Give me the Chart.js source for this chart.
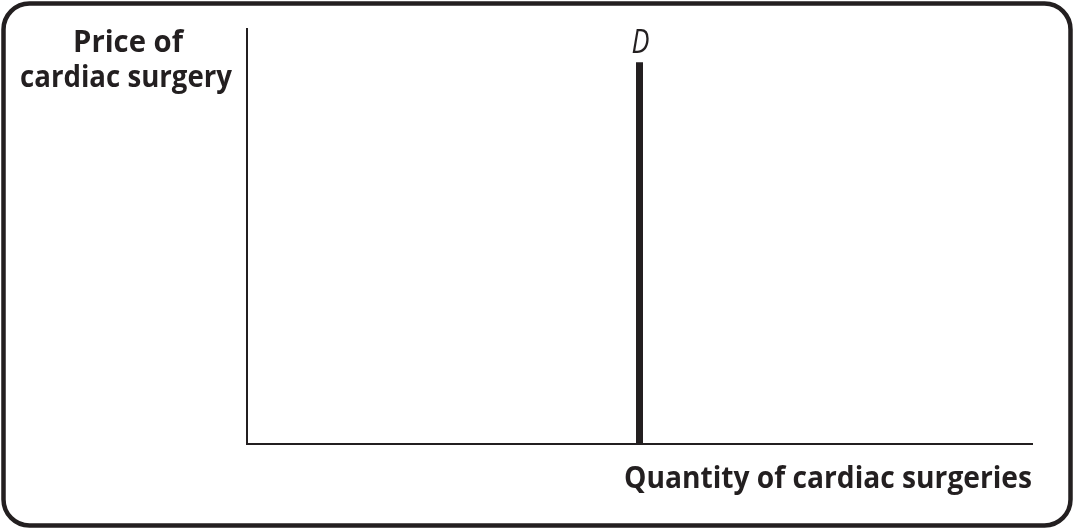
<!DOCTYPE html>
<html>
<head>
<meta charset="utf-8">
<script src="https://cdn.jsdelivr.net/npm/chart.js@4/dist/chart.umd.min.js"></script>
<style>
  html, body { margin: 0; padding: 0; background: #fff; }
  #wrap { width: 1074px; height: 529px; position: relative; }
</style>
</head>
<body>
<div id="wrap"><canvas id="c" width="1074" height="529"></canvas></div>
<script>
// ---- data ----
const demandQuantity = [50, 50];
const demandPrice = [0, 92];
const demandLabel = "D";
const yTitleLines = ["Price of", "cardiac surgery"];
const xTitle = "Quantity of cardiac surgeries";
const xRange = [0, 100];
const yRange = [0, 100];

const INK = "#231f20";

// draw text with a slight horizontal condensing so it fits a given width
function fitText(ctx, text, x, y, width, align) {
  const w = ctx.measureText(text).width;
  const s = Math.min(1, width / w);
  ctx.save();
  let left;
  if (align === "center") left = x - width / 2;
  else if (align === "right") left = x - width;
  else left = x;
  ctx.translate(left, y);
  ctx.scale(s, 1);
  ctx.textAlign = "left";
  ctx.fillText(text, 0, 0);
  ctx.restore();
}

const decorPlugin = {
  id: "decor",
  beforeDraw(chart) {
    const ctx = chart.ctx;
    ctx.save();
    ctx.fillStyle = "#fff";
    ctx.fillRect(0, 0, chart.width, chart.height);
    ctx.strokeStyle = INK;
    ctx.lineWidth = 4.5;
    ctx.beginPath();
    ctx.roundRect(3.5, 3.5, 1074 - 7, 529 - 7, 26);
    ctx.stroke();
    ctx.restore();
  },
  afterDraw(chart) {
    const ctx = chart.ctx;
    const xs = chart.scales.x, ys = chart.scales.y;
    ctx.save();
    ctx.fillStyle = INK;
    ctx.textBaseline = "alphabetic";
    // y title
    ctx.font = "bold 30px 'Open Sans'";
    fitText(ctx, yTitleLines[0], 73, 52, 110, "left");
    fitText(ctx, yTitleLines[1], 20, 87, 212, "left");
    // x title
    fitText(ctx, xTitle, xs.right, 488, 408, "right");
    // D label
    ctx.font = "italic 32px 'Open Sans'";
    const dx = xs.getPixelForValue(demandQuantity[1]);
    const dy = ys.getPixelForValue(demandPrice[1]);
    fitText(ctx, demandLabel, dx + 1, dy - 9, 18, "center");
    ctx.restore();
  }
};

new Chart(document.getElementById("c"), {
  type: "scatter",
  data: {
    datasets: [{
      data: demandQuantity.map((q, i) => ({ x: q, y: demandPrice[i] })),
      showLine: true,
      borderColor: INK,
      borderWidth: 7,
      borderCapStyle: "butt",
      pointRadius: 0,
      fill: false
    }]
  },
  options: {
    responsive: false,
    animation: false,
    devicePixelRatio: 1,
    layout: { padding: { left: 247, right: 42, top: 29, bottom: 85 } },
    plugins: { legend: { display: false }, tooltip: { enabled: false } },
    scales: {
      x: {
        type: "linear", min: xRange[0], max: xRange[1],
        grid: { display: false, drawTicks: false },
        border: { display: true, color: INK, width: 2 },
        ticks: { display: false }
      },
      y: {
        type: "linear", min: yRange[0], max: yRange[1],
        grid: { display: false, drawTicks: false },
        border: { display: true, color: INK, width: 2 },
        ticks: { display: false }
      }
    }
  },
  plugins: [decorPlugin]
});
</script>
</body>
</html>
